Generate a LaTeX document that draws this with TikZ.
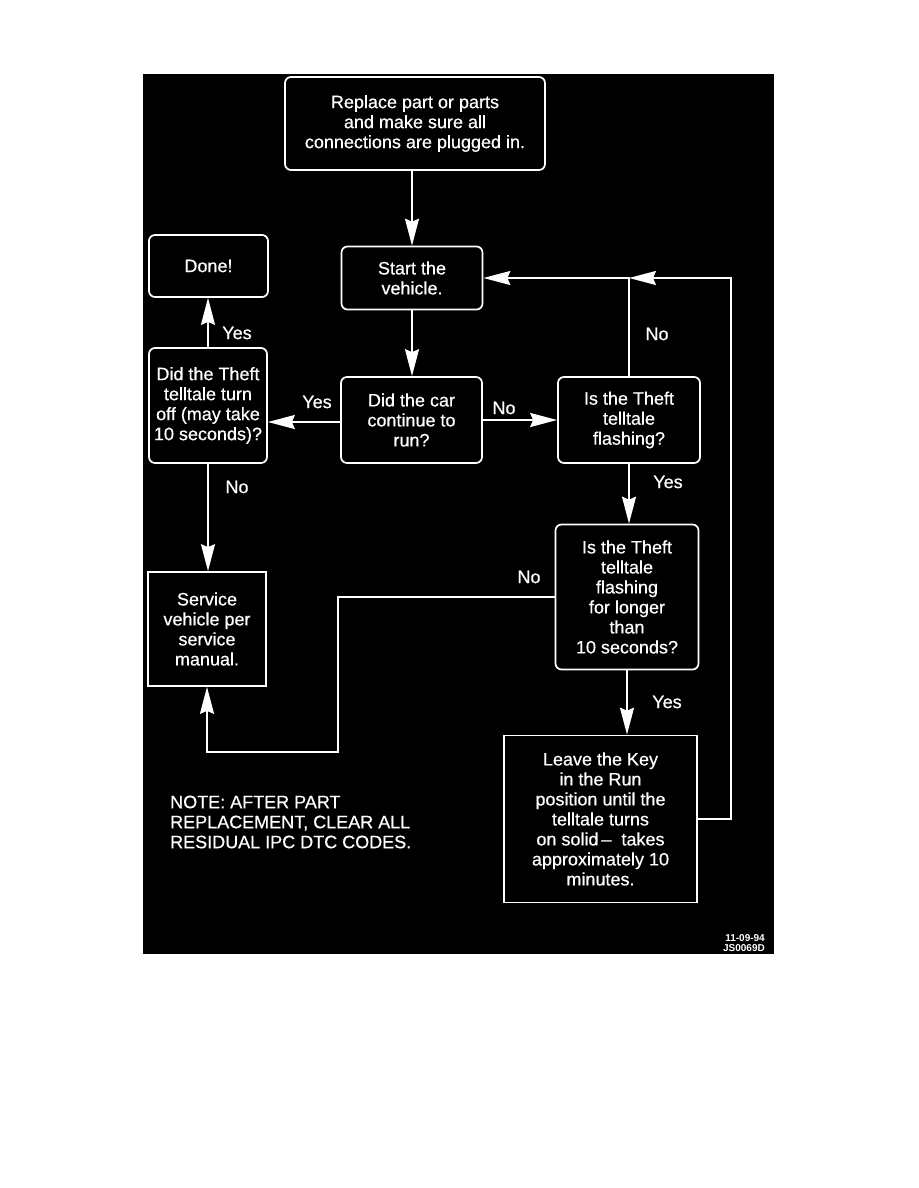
\documentclass[tikz,border=0pt]{standalone}
\usepackage{fontspec}
\setmainfont{Liberation Sans}
\newfontfamily\medfont[FakeBold=0.5]{Liberation Sans}
\usetikzlibrary{arrows.meta}
\begin{document}
\begin{tikzpicture}[x=1pt,y=-1pt,
  box/.style={draw=white, line width=1.7pt, text=white, align=center, inner sep=0pt, font=\medfont\fontsize{18}{20}\selectfont},
  rbox/.style={box, rounded corners=6pt},
  arr/.style={draw=white, line width=1.8pt, -{Stealth[length=27pt,width=14pt,inset=3pt]}},
  lbl/.style={text=white, font=\medfont\fontsize{18}{20}\selectfont, inner sep=0pt}]
\useasboundingbox (0,0) rectangle (918,1188);
\fill[white] (0,0) rectangle (918,1188);
\fill[black] (143,74) rectangle (774,954);

\node[rbox, minimum width=260pt, minimum height=93pt] (replace) at (415,123.5) {Replace part or parts\\and make sure all\\connections are plugged in.};
\node[rbox, minimum width=141pt, minimum height=63pt] (start) at (412,278) {Start the\\vehicle.};
\node[rbox, minimum width=119pt, minimum height=62pt] (done) at (208.5,266) {Done!};
\node[rbox, minimum width=118pt, minimum height=115pt] (off) at (208,405.5) {Did the Theft\\telltale turn\\off (may take\\10 seconds)?};
\node[rbox, minimum width=141pt, minimum height=86pt] (car) at (411.5,420) {Did the car\\continue to\\run?};
\node[rbox, minimum width=142pt, minimum height=86pt] (flash) at (629,420) {Is the Theft\\telltale\\flashing?};
\node[rbox, minimum width=143pt, minimum height=145pt] (ten) at (627,597) {Is the Theft\\telltale\\flashing\\for longer\\than\\10 seconds?};
\node[box, minimum width=118pt, minimum height=114pt] (service) at (207,629) {Service\\vehicle per\\service\\manual.};
\node[box, minimum width=193pt, minimum height=167pt] (leave) at (600.5,819) {Leave the Key\\in the Run\\position until the\\telltale turns\\on solid\,–\ \ takes\\approximately 10\\minutes.};

\coordinate (loopr) at (731,278);
\coordinate (nobend) at (338,752);

\draw[arr] (start.north |- replace.south) -- (start.north);
\draw[arr] (start.south) -- (start.south |- car.north);
\draw[arr] ([yshift=-2pt]car.west) -- ([yshift=-2pt]car.west -| off.east);
\draw[arr] (car.east) -- (flash.west);
\draw[arr] (flash.north) |- (start.east);
\draw[arr] (leave.east) -| (loopr) -- (flash.north |- start.east);
\draw[arr] (off.north) -- (off.north |- done.south);
\draw[arr] (off.south) -- (off.south |- service.north);
\draw[arr] (flash.south) -- (flash.south |- ten.north);
\draw[arr] (ten.south) -- (ten.south |- leave.north);
\draw[arr] (ten.west) -| (nobend) -| (service.south);

\node[lbl] (y1) at (237,333) {Yes};
\node[lbl] (n1) at (237,487) {No};
\node[lbl] (y2) at (317,402) {Yes};
\node[lbl] (n2) at (504,408) {No};
\node[lbl] (n3) at (657,334) {No};
\node[lbl] (y3) at (668,482) {Yes};
\node[lbl] (n4) at (529,577) {No};
\node[lbl] (y4) at (667,702) {Yes};

\node[lbl, align=left, anchor=west] (note) at (170,822) {NOTE: AFTER PART\\REPLACEMENT, CLEAR ALL\\RESIDUAL IPC DTC CODES.};
\node[text=white, font=\bfseries\fontsize{10}{10.5}\selectfont, align=right, anchor=east, inner sep=0pt] (stamp) at (765,943) {11-09-94\\JS0069D};
\end{tikzpicture}
\end{document}
